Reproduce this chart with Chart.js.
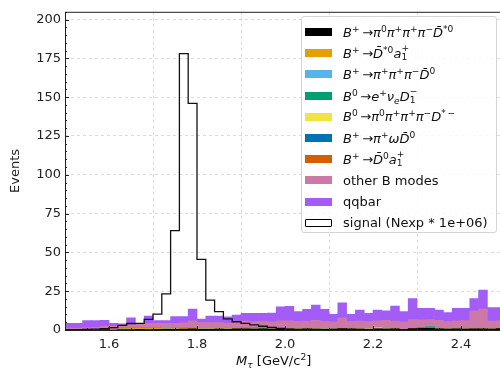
<!DOCTYPE html>
<html>
<head>
<meta charset="utf-8">
<script src="https://cdn.jsdelivr.net/npm/chart.js@4.4.1/dist/chart.umd.min.js"></script>
<style>
  html, body { margin: 0; padding: 0; background: #fff; width: 500px; height: 372px; overflow: hidden; }
  #wrap { position: relative; width: 510px; height: 372px; }
  #legend { position: absolute; left: 301px; top: 16px; width: 196px; height: 217px; box-sizing: border-box;
            border: 1px solid #d4d4d4; border-radius: 3px; background: rgba(255,255,255,0.85);
            font: 13px 'DejaVu Sans'; color: #111; }
  .row { position: absolute; left: 3px; height: 20px; display: flex; align-items: center; white-space: nowrap; }
  .sw { width: 27px; height: 8px; margin-right: 11px; box-sizing: border-box; flex: none; }
  sup, sub { font-size: 0.7em; line-height: 0; }
  sup { vertical-align: 0.55em; }
  sub { vertical-align: -0.3em; }
  .ss { display: inline-flex; flex-direction: column; font-size: 0.7em; line-height: 1.0; vertical-align: 0.75em; }
  #xtitle { position: absolute; left: 236px; top: 353px; font: 13px 'DejaVu Sans'; color: #111; white-space: nowrap; }
</style>
</head>
<body>
<div id="wrap">
  <canvas id="c" width="510" height="372"></canvas>
  <div id="legend"></div>
  <div id="xtitle"><i>M</i><sub><i>τ</i></sub> [GeV/c<sup>2</sup>]</div>
</div>
<script>
// M_tau histogram, 50 bins from 1.5 to 2.5 GeV/c^2
const binLo = Array.from({ length: 50 }, (_, i) => +(1.5 + 0.02 * i).toFixed(2));
const xTicks = [1.6, 1.8, 2.0, 2.2, 2.4];
const yTicks = [0, 25, 50, 75, 100, 125, 150, 175, 200];

const bPi0PiPiPiDst0 = [0,0,0,0,0.2,0,0.3,0.3,0.5,0.3, 0.5,0.4,0.5,0.6,0.8,0.5,0.4,0.6,0.5,0.7,
                        0.8,0.6,0.7,0.5,0.8,0.6,0.5,0.7,0.6,0.5, 0.6,0.9,0.8,0.6,0.5,0.7,0.6,0.8,0.5,0.9,
                        1.0,1.0,0.7,0.6,0.7,0.6,0.8,0.7,0.6,0.9];
const bDst0A1 = [0,0,0,0,0.3,0.3,0.5,0.6,0.8,0.6, 0.5,0.4,0.3,0.4,0.3,0.2,0.3,0.2,0.2,0.2,
                 0.1,0.2,0.1,0.2,0.1,0.1,0.2,0.1,0.1,0.1, 0,0.1,0,0.1,0,0,0.1,0,0,0,
                 0,0,0,0,0,0,0,0,0,0];
const bPiPiPiD0 = [0,0,0,0,0,0,0,0,0,0, 0,0,0.2,0.2,0.3,0.2,0.2,0,0,0,
                   0,0,0,0,0,0,0,0,0,0, 0,0,0,0,0,0,0,0,0,0,
                   0,0.3,0,0,0,0,0,0,0,0];
const b0ENuD1 = [0,0,0,0,0,0,0,0,0,0, 0,0,0,0,0,0,0,0,0,0,
                 0.4,0.6,0.5,0,0,0,0,0,0,0, 0,0,0,0,0,0,0.3,0,0,0,
                 0.5,0.8,0.4,0,0,0,0,0,0,0];
const b0Pi0PiPiPiDst = [0,0,0,0,0,0,0,0,0,0, 0,0,0,0,0,0,0,0,0,0,
                        0,0,0,0,0,0,0,0,0,0, 0,0,0,0,0.3,0.8,0.4,0,0,0,
                        0,0,0,0,0,0,0,0.3,0,0];
const bPiOmegaD0 = [0,0,0,0,0,0,0,0,0,0, 0,0,0,0,0,0,0,0,0,0,
                    0,0,0,0,0,0,0,0,0,0.2, 0,0,0,0,0,0,0.1,0,0,0,
                    0,0.2,0,0,0.2,0,0,0,0,0];
const bD0A1 = [0,0,0,0.2,0,0.3,0.4,0.4,0.5,0.4, 0.3,0.3,0.2,0,0.3,0.2,0,0,0,0,
               0,0,0,0,0,0,0,0,0,0, 0,0,0,0,0,0,0,0,0,0,
               0,0,0,0,0,0,0,0,0,0];
const otherB = [1.2,1.0,1.5,1.6,1.8,2.0,2.2,2.5,1.8,2.8, 3.0,3.2,3.0,3.4,4.2,3.6,3.8,4.0,3.8,4.2,
                4.4,4.0,4.5,4.6,5.0,5.2,4.8,5.0,5.4,4.8, 4.6,6.8,4.8,5.0,4.6,4.4,4.8,5.0,4.8,5.8,
                5.0,4.4,5.2,4.8,5.0,5.4,11.5,12.5,5.2,5.0];
const qqbar = [3.1,3.3,4.5,4.2,3.9,1.7,0.6,4.1,0.7,4.9, 1.7,1.7,4.4,4.0,7.5,2.3,4.3,4.2,4.0,4.5,
               5.0,5.3,4.9,5.6,9.1,9.3,6.3,7.5,10.0,7.7, 4.9,9.7,4.5,7.1,5.3,6.9,6.0,9.6,6.5,13.6,
               7.4,7.2,6.5,5.9,8.0,7.9,8.0,12.2,8.7,8.6];
const signal = [0.2,0.3,0.4,0.6,0.9,1.5,3.0,4.2,4.3,6.8, 10.2,23.3,64,178,146,45.5,19.3,11.8,7.2,5.3,
                4.3,3.3,2.4,1.6,1.0,0.6,0.4,0.25,0.15,0.1, 0,0,0,0,0,0,0,0,0,0,
                0,0,0,0,0,0,0,0,0,0];

const stackSeries = [bPi0PiPiPiDst0, bDst0A1, bPiPiPiD0, b0ENuD1, b0Pi0PiPiPiDst, bPiOmegaD0, bD0A1, otherB, qqbar];
const stackNames = ['B+ → π0π+π+π−D̄*0', 'B+ → D̄*0a1+', 'B+ → π+π+π−D̄0', 'B0 → e+νeD1−',
                    'B0 → π0π+π+π−D*−', 'B+ → π+ωD̄0', 'B+ → D̄0a1+', 'other B modes', 'qqbar'];
const stackColors = ['#000000', '#E69F00', '#56B4E9', '#009E73', '#F0E442', '#0072B2', '#D55E00', '#CC79A7', '#A35CF5'];

const legendHtml = [
  '<i>B</i><sup>+</sup>&thinsp;→<i>π</i><sup>0</sup><i>π</i><sup>+</sup><i>π</i><sup>+</sup><i>π</i><sup>−</sup><i>D̄</i><sup>*0</sup>',
  '<i>B</i><sup>+</sup>&thinsp;→<i>D̄</i><sup>*0</sup><i>a</i><span class="ss"><span>+</span><span>1</span></span>',
  '<i>B</i><sup>+</sup>&thinsp;→<i>π</i><sup>+</sup><i>π</i><sup>+</sup><i>π</i><sup>−</sup><i>D̄</i><sup>0</sup>',
  '<i>B</i><sup>0</sup>&thinsp;→<i>e</i><sup>+</sup><i>ν</i><sub><i>e</i></sub><i>D</i><span class="ss"><span>−</span><span>1</span></span>',
  '<i>B</i><sup>0</sup>&thinsp;→<i>π</i><sup>0</sup><i>π</i><sup>+</sup><i>π</i><sup>+</sup><i>π</i><sup>−</sup><i>D</i><sup>*&thinsp;−</sup>',
  '<i>B</i><sup>+</sup>&thinsp;→<i>π</i><sup>+</sup><i>ωD̄</i><sup>0</sup>',
  '<i>B</i><sup>+</sup>&thinsp;→<i>D̄</i><sup>0</sup><i>a</i><span class="ss"><span>+</span><span>1</span></span>',
  'other B modes',
  'qqbar',
  'signal (Nexp * 1e+06)'
];

// legend (html, so the math labels keep their sub/superscripts)
const legend = document.getElementById('legend');
legendHtml.forEach((html, i) => {
  const row = document.createElement('div');
  row.className = 'row';
  row.style.top = (5 + i * 21.2) + 'px';
  const sw = document.createElement('span');
  sw.className = 'sw';
  if (i < stackColors.length) {
    sw.style.background = stackColors[i];
  } else {
    sw.style.background = '#fff';
    sw.style.border = '1px solid #000';
    sw.style.borderRadius = '1px';
  }
  const txt = document.createElement('span');
  txt.innerHTML = html;
  row.appendChild(sw);
  row.appendChild(txt);
  legend.appendChild(row);
});

const datasets = stackSeries.map((vals, i) => ({
  type: 'bar',
  label: stackNames[i],
  data: vals,
  xAxisID: 'x',
  backgroundColor: stackColors[i],
  borderWidth: 0,
  order: 1
}));

const signalPts = [{ x: binLo[0], y: 0 }];
binLo.forEach((x, i) => signalPts.push({ x: x, y: signal[i] }));
signalPts.push({ x: 2.5, y: signal[signal.length - 1] });

datasets.push({
  type: 'line',
  label: 'signal (Nexp * 1e+06)',
  data: signalPts,
  xAxisID: 'x2',
  stepped: true,
  borderColor: '#111',
  borderWidth: 1.3,
  pointRadius: 0,
  fill: false,
  order: 0
});

const frameTicks = {
  id: 'frameTicks',
  afterDraw(chart) {
    const { ctx, chartArea: a, scales } = chart;
    ctx.save();
    ctx.strokeStyle = '#222';
    ctx.lineWidth = 1;
    ctx.beginPath();
    for (let v = 0; v <= 205; v += 5) {
      const y = Math.round(scales.y.getPixelForValue(v)) + 0.5;
      const len = v % 25 === 0 ? 4 : 2;
      ctx.moveTo(a.left, y);
      ctx.lineTo(a.left + len, y);
    }
    for (let k = 0; k <= 20; k++) {
      const v = 1.5 + k * 0.05;
      const x = Math.round(scales.x2.getPixelForValue(v)) + 0.5;
      const len = xTicks.some(t => Math.abs(t - v) < 1e-6) ? 4 : 2;
      ctx.moveTo(x, a.bottom);
      ctx.lineTo(x, a.bottom - len);
    }
    ctx.stroke();
    ctx.strokeRect(a.left + 0.5, a.top + 0.5, a.right - a.left - 1, a.bottom - a.top);
    ctx.restore();
  }
};

new Chart(document.getElementById('c'), {
  type: 'bar',
  data: { labels: binLo.map(v => v.toFixed(2)), datasets: datasets },
  options: {
    responsive: false,
    animation: false,
    datasets: { bar: { barPercentage: 1.0, categoryPercentage: 1.0, grouped: false } },
    layout: { padding: { left: 0, right: 5, top: 10, bottom: 0 } },
    plugins: { legend: { display: false }, tooltip: { enabled: false } },
    scales: {
      x: { display: false, stacked: true, offset: true, grid: { display: false } },
      x2: {
        type: 'linear', position: 'bottom', min: 1.5, max: 2.5, offset: false,
        afterBuildTicks: s => { s.ticks = xTicks.map(v => ({ value: v })); },
        afterFit: s => { s.height = 42; },
        ticks: { color: '#222', font: { family: 'DejaVu Sans', size: 13 }, padding: 7, maxRotation: 0,
                 callback: v => v.toFixed(1) },
        grid: { color: '#d2d2d2', drawTicks: false, lineWidth: 0.8 },
        border: { display: false, dash: [3, 3] }
      },
      y: {
        stacked: true, min: 0, max: 205,
        afterBuildTicks: s => { s.ticks = yTicks.map(v => ({ value: v })); },
        afterFit: s => { s.width = 65; },
        ticks: { color: '#222', font: { family: 'DejaVu Sans', size: 13 }, padding: 4 },
        grid: { color: '#d2d2d2', drawTicks: false, lineWidth: 0.8 },
        border: { display: false, dash: [3, 3] },
        title: { display: true, text: 'Events', color: '#222', font: { family: 'DejaVu Sans', size: 13 },
                 padding: { top: 8, bottom: 0 } }
      }
    }
  },
  plugins: [frameTicks]
});
</script>
</body>
</html>
